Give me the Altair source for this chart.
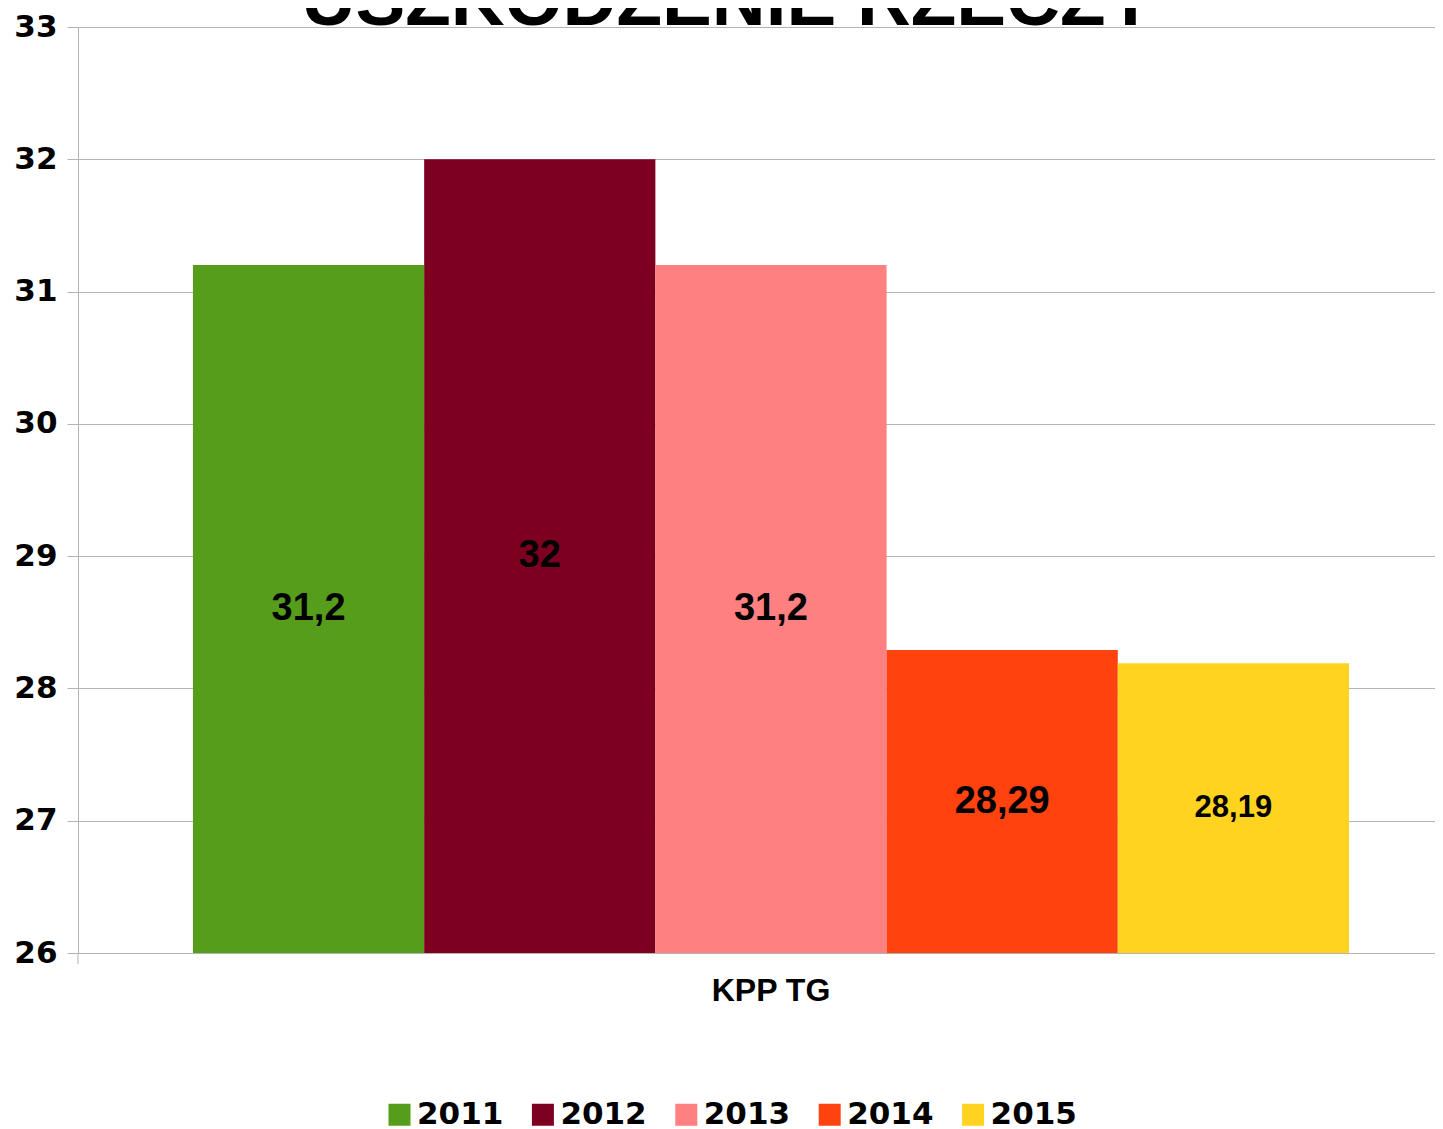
import altair as alt
import pandas as pd

TITLE = "USZKODZENIE RZECZY"
CATEGORY = "KPP TG"
YEARS = ["2011", "2012", "2013", "2014", "2015"]
VALUES = [31.2, 32, 31.2, 28.29, 28.19]
COLORS = ["#579d1c", "#7e0021", "#ff8080", "#ff420e", "#ffd320"]
Y_DOMAIN = [26, 33]
Y_TICKS = [26, 27, 28, 29, 30, 31, 32, 33]

FONT = "Liberation Sans"
WIDE_FONT = "DejaVu Sans"
GRID = "#b3b3b3"

df = pd.DataFrame({"year": YEARS, "value": VALUES})


def x_enc():
    return alt.X(
        "year:N",
        sort=YEARS,
        scale=alt.Scale(paddingInner=0, paddingOuter=0.4346, align=0.572),
        axis=alt.Axis(
            title=CATEGORY, labels=False, ticks=False, domain=False, grid=False,
            titleFont=FONT, titleFontSize=32, titleFontWeight="bold", titleColor="black",
            titleX=692.5, titleY=47, titleBaseline="alphabetic", titleAlign="center",
        ),
    )


def y_enc(field):
    return alt.Y(
        field,
        scale=alt.Scale(domain=Y_DOMAIN, nice=False, zero=False),
        axis=alt.Axis(
            title=None, values=Y_TICKS, format="d",
            labelFont=WIDE_FONT, labelFontSize=31, labelFontWeight="bold", labelColor="black",
            labelPadding=10, tickSize=11, tickColor=GRID, domainColor=GRID,
            gridColor=GRID, gridWidth=1,
        ),
    )


bars = alt.Chart(df).mark_bar().encode(
    x=x_enc(),
    y=y_enc("value:Q"),
    y2=alt.datum(Y_DOMAIN[0]),
    color=alt.Color(
        "year:N",
        scale=alt.Scale(domain=YEARS, range=COLORS),
        legend=alt.Legend(
            title=None, orient="none", legendX=306, legendY=1072,
            direction="horizontal", columns=5, symbolType="square", symbolSize=484,
            symbolStrokeWidth=0, symbolOpacity=1, labelFont=WIDE_FONT, labelFontSize=31,
            labelFontWeight="bold", labelColor="black", labelOffset=2, columnPadding=23.4,
        ),
    ),
)

labels = alt.Chart(df).transform_calculate(
    mid=f"(datum.value + {Y_DOMAIN[0]}) / 2",
    label="replace(toString(datum.value), '.', ',')",
).mark_text(font=FONT, fontWeight="bold", color="black", baseline="middle", align="center").encode(
    x=x_enc(),
    y=y_enc("mid:Q"),
    text="label:N",
    size=alt.condition(alt.datum.year == "2015", alt.value(31), alt.value(38)),
)

title = alt.Chart(pd.DataFrame({"t": [TITLE]})).mark_text(
    font=FONT, fontSize=74.6, fontWeight="bold", align="center", baseline="alphabetic", color="black"
).encode(text="t:N", x=alt.value(650.4), y=alt.value(-2))

tick = alt.Chart(pd.DataFrame({"t": [0]})).mark_rule(color=GRID).encode(
    x=alt.value(0), y=alt.value(926), y2=alt.value(937)
)

chart = alt.layer(bars, labels, title, tick).properties(
    width=1357,
    height=926,
    autosize=alt.AutoSizeParams(type="none"),
    padding={"left": 70, "top": 19, "right": 0, "bottom": 178},
).configure_view(strokeWidth=0)

chart.save("out.html", embed_options={"renderer": "svg", "actions": False})
